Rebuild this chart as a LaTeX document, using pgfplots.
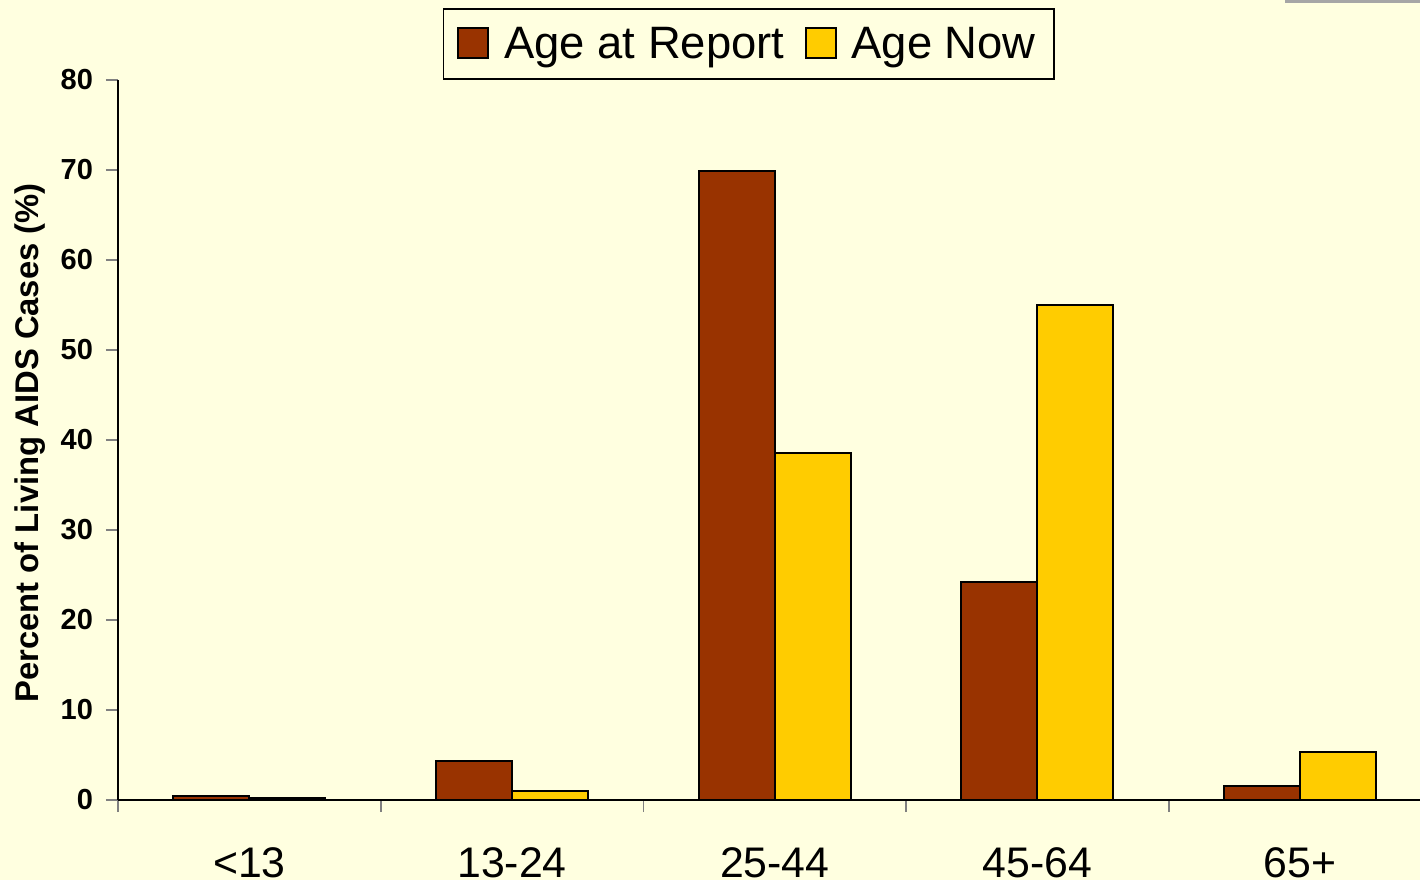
\documentclass[border=0pt]{standalone}
\usepackage{pgfplots}
\pgfplotsset{compat=1.18}
\usepackage{fontspec}
\setmainfont{Liberation Sans}
\definecolor{bg}{HTML}{FFFFE0}
\definecolor{rust}{HTML}{993300}
\definecolor{gold}{HTML}{FFCC00}
\begin{document}
\begin{tikzpicture}
\path[use as bounding box, fill=bg] (-59pt,-40pt) rectangle (651pt,400pt);
\draw[gray!70, line width=1.5pt] (583.5pt,399.25pt) -- (651pt,399.25pt);
\begin{axis}[
  at={(0,0)}, anchor=south west,
  scale only axis, width=651pt, height=360pt,
  xmin=-0.5, xmax=4.456, ymin=0, ymax=80,
  ybar=0pt, bar width=38pt,
  axis x line=bottom, axis y line=left,
  axis line style={-, black, line width=0.8pt},
  tick align=outside, major tick length=6pt,
  xtick={-0.5,0.5,1.5,2.5,3.5},
  xticklabels={},
  x tick style={draw=gray, line width=0.8pt},
  extra x ticks={0,1,2,3,4},
  extra x tick labels={<13,13-24,25-44,45-64,65+},
  extra x tick style={major tick length=0pt, x tick style={draw=none},
    xticklabel style={font=\fontsize{21.4}{21.4}\selectfont, yshift=-20.5pt}},
  ytick={0,10,...,80},
  y tick style={draw=gray, line width=0.8pt},
  /pgf/number format/assume math mode=true,
  yticklabel style={font=\bfseries\fontsize{14.5}{14.5}\selectfont, xshift=-3pt},
  ylabel={\bfseries Percent of Living AIDS Cases (\%)},
  ylabel style={at={(axis description cs:-0.0676,0.496)}, anchor=center, font=\fontsize{16.4}{16.4}\selectfont},
  legend columns=2,
  legend style={at={(axis description cs:0.4843,1.1)}, anchor=north, draw=black, line width=0.8pt, fill=bg,
    font=\fontsize{22.7}{22.7}\selectfont, inner xsep=7pt, inner ysep=7pt,
    /tikz/every even column/.append style={column sep=8pt}},
  legend image code/.code={\draw[#1, draw=black, line width=1pt] (0pt,-7pt) rectangle (15pt,8pt);
    \path[draw=none, fill=none] (0pt,0pt) -- (21pt,0pt);},
]
\addplot[fill=rust, draw=black, line width=1pt] coordinates {(0,0.5) (1,4.3) (2,69.9) (3,24.2) (4,1.6)};
\addplot[fill=gold, draw=black, line width=1pt] coordinates {(0,0.2) (1,1.0) (2,38.6) (3,55.0) (4,5.3)};
\legend{Age at Report, Age Now}
\end{axis}
\end{tikzpicture}
\end{document}
